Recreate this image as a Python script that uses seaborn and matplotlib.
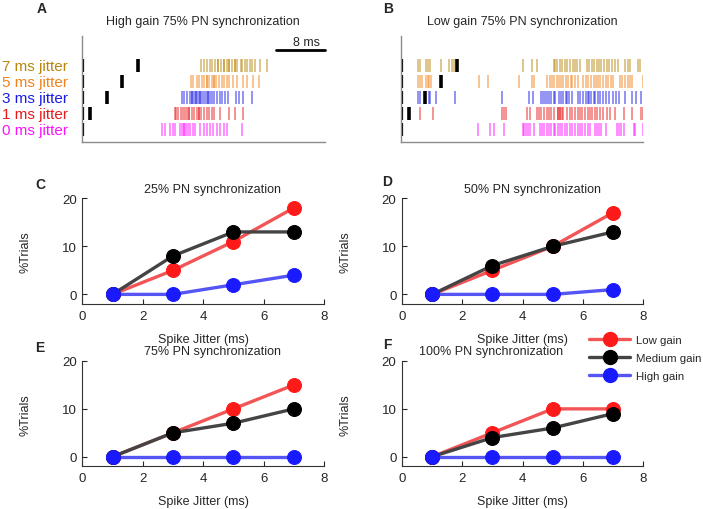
import numpy as np
import pandas as pd
import matplotlib
matplotlib.use("Agg")
import matplotlib.pyplot as plt
from matplotlib.lines import Line2D
import seaborn as sns

sns.set_style("white")
plt.rcParams['font.family'] = ['Liberation Sans', 'DejaVu Sans']

# ---------------- data ----------------
jitter_labels = ["7 ms jitter", "5 ms jitter", "3 ms jitter", "1 ms jitter", "0 ms jitter"]
jitter_colors = ["#b8860b", "#f0821e", "#1a1ae6", "#e61a1a", "#ff10ff"]

# Panel A: high gain, 75% PN synchronization (spike times, ms)
a_7 = [19.6, 20.1, 20.5, 21.0, 21.4, 21.9, 22.4, 22.4, 22.8, 23.4, 23.4, 23.8, 24.2, 24.2, 24.7,
       25.2, 25.2, 25.5, 26.1, 26.4, 26.8, 27.2, 27.6, 28.0, 28.4, 29.3, 30.5]
a_5 = [17.9, 18.3, 18.9, 19.2, 19.7, 20.1, 20.5, 20.5, 20.9, 21.3, 21.7, 21.7, 22.1, 22.6, 23.0,
       23.3, 23.8, 24.2, 24.9, 25.5, 26.5, 27.1, 28.2, 29.2]
a_3 = [16.4, 16.7, 17.2, 17.8, 18.1, 18.1, 18.4, 18.8, 18.8, 19.1, 19.4, 19.4, 19.7, 20.1, 20.4,
       20.7, 20.7, 21.1, 21.4, 21.7, 22.2, 22.7, 23.1, 23.5, 24.0, 25.3, 25.9, 26.5, 27.9]
a_1 = [15.2, 15.4, 15.8, 16.2, 16.6, 16.9, 17.3, 17.6, 17.6, 18.0, 18.4, 18.9, 19.2, 19.2, 19.6,
       20.1, 20.5, 20.9, 21.3, 21.7, 22.7, 24.1, 25.2, 26.5]
a_0 = [13.2, 13.6, 14.5, 14.9, 15.3, 16.1, 16.4, 16.8, 16.8, 17.1, 17.4, 17.8, 18.2, 18.6, 19.4,
       20.1, 20.5, 21.1, 21.6, 22.2, 22.7, 23.4, 23.8, 26.3]
a_black = [9.2, 6.6, 4.0, 1.3, None]

# Panel B: low gain, 75% PN synchronization (spike times, ms)
b_7 = [2.8, 3.2, 4.2, 4.5, 4.8, 6.6, 8.0, 8.4, 8.8, 20.1, 21.6, 22.4, 25.2, 25.4, 25.8, 26.3,
       26.6, 27.1, 27.5, 27.9, 28.4, 28.7, 29.1, 29.6, 30.7, 31.0, 31.5, 31.9, 32.3, 32.7, 33.1,
       33.5, 34.0, 34.4, 34.9, 35.3, 35.8, 37.0, 37.4, 37.8, 39.2, 39.5]
b_5 = [2.8, 3.2, 3.5, 4.2, 4.5, 4.7, 5.0, 12.9, 14.4, 19.5, 21.6, 22.0, 24.2, 24.6, 25.0, 25.3,
       25.7, 26.1, 26.4, 26.8, 27.2, 27.6, 28.0, 28.3, 28.7, 29.2, 30.1, 30.5, 30.9, 31.3, 31.8,
       32.2, 32.6, 32.9, 33.4, 33.8, 34.2, 34.6, 35.0, 36.1, 36.5, 37.0, 37.4, 37.8, 38.2, 40.0]
b_3 = [2.8, 3.2, 4.6, 4.8, 5.9, 8.9, 16.7, 21.2, 21.8, 23.1, 23.5, 23.8, 24.2, 24.5, 24.8, 25.2,
       25.4, 26.1, 26.5, 26.8, 27.2, 27.5, 27.8, 28.2, 29.2, 29.6, 30.1, 30.5, 30.8, 31.1, 31.4,
       31.8, 32.1, 32.6, 32.9, 33.4, 33.8, 34.4, 35.0, 35.5, 36.0, 37.0, 38.2, 38.8, 39.7]
b_1 = [3.1, 5.4, 16.7, 17.0, 17.3, 20.9, 21.4, 22.4, 22.8, 23.2, 23.7, 24.1, 24.4, 24.8, 25.3,
       26.0, 26.0, 26.3, 26.3, 26.6, 26.8, 27.5, 27.9, 28.3, 28.7, 29.2, 29.6, 29.9, 30.4, 30.8,
       31.2, 31.6, 32.0, 32.4, 32.9, 33.4, 34.0, 34.5, 35.4, 36.9, 38.1, 39.6, 39.9]
b_0 = [12.8, 14.8, 15.4, 17.1, 20.1, 20.4, 20.7, 21.0, 21.3, 22.0, 22.9, 23.3, 23.7, 24.1, 24.4,
       24.8, 25.2, 25.5, 25.9, 26.3, 26.6, 27.1, 27.5, 27.9, 28.3, 28.8, 29.2, 29.6, 29.9, 30.4,
       30.8, 31.2, 32.0, 32.4, 32.7, 33.1, 33.9, 35.7, 36.0, 36.4, 36.8, 38.4, 38.7, 39.9]
b_black = [9.3, 6.6, 4.0, 1.4, None]

# Panels C-F: % trials vs spike jitter
jitter_ms = [1, 3, 5, 7]
gains = ["Low gain", "Medium gain", "High gain"]
gain_colors = ["#ff1a1a", "#000000", "#1a1aff"]
line_colors = ["#f25555", "#444444", "#5555f5"]
sync_titles = ["25% PN synchronization", "50% PN synchronization",
               "75% PN synchronization", "100% PN synchronization"]
sync25 = {"Low gain": [0, 5, 11, 18], "Medium gain": [0, 8, 13, 13], "High gain": [0, 0, 2, 4]}
sync50 = {"Low gain": [0, 5, 10, 17], "Medium gain": [0, 6, 10, 13], "High gain": [0, 0, 0, 1]}
sync75 = {"Low gain": [0, 5, 10, 15], "Medium gain": [0, 5, 7, 10], "High gain": [0, 0, 0, 0]}
sync100 = {"Low gain": [0, 5, 10, 10], "Medium gain": [0, 4, 6, 9], "High gain": [0, 0, 0, 0]}

# ---------------- figure ----------------
W, H = 703, 510
fig = plt.figure(figsize=(W / 100, H / 100), dpi=100)

def ax_px(left, right, top, bottom):
    return fig.add_axes([left / W, 1 - bottom / H, (right - left) / W, (bottom - top) / H])

FS = 9

def raster(ax, rows, blacks, title, title_x):
    ax.set_xlim(0, 40)
    ax.set_ylim(-0.78, 5.84)
    for i, (spk, col, blk) in enumerate(zip(rows, jitter_colors, blacks)):
        y = 4 - i
        ax.vlines(spk, y - 0.42, y + 0.42, colors=col, linewidth=1.1, alpha=0.6)
        ax.vlines([0.15], y - 0.42, y + 0.42, colors="black", linewidth=1.6)
        if blk is not None:
            ax.vlines([blk], y - 0.42, y + 0.42, colors="black", linewidth=2.6)
    for s in ["top", "right"]:
        ax.spines[s].set_visible(False)
    for s in ["left", "bottom"]:
        ax.spines[s].set_color("#8a8a8a")
        ax.spines[s].set_linewidth(1.0)
    ax.set_xticks([])
    ax.set_yticks([])
    fig.text(title_x / W, 1 - 22 / H, title, ha="center", va="center", fontsize=FS)

axA = ax_px(82.3, 325, 37, 143)
raster(axA, [a_7, a_5, a_3, a_1, a_0], a_black, "High gain 75% PN synchronization", 203)
axB = ax_px(400.7, 643.3, 37, 143)
raster(axB, [b_7, b_5, b_3, b_1, b_0], b_black, "Low gain 75% PN synchronization", 522)

# scale bar in A
axA.plot([32, 40], [4.94, 4.94], color="black", lw=2, clip_on=False)
axA.text(37.0, 5.1, "8 ms", ha="center", va="bottom", fontsize=FS)

# jitter labels
for i, (lab, col) in enumerate(zip(jitter_labels, jitter_colors)):
    fig.text(2 / W, 1 - (67 + 16 * i) / H, lab, color=col, fontsize=11, ha="left", va="center")

def lineplot(ax, data, title, title_cx):
    for g, mc, lc in zip(gains, gain_colors, line_colors):
        df = pd.DataFrame({"jitter": jitter_ms, "trials": data[g]})
        sns.lineplot(data=df, x="jitter", y="trials", ax=ax, color=lc, lw=2.4,
                     marker="o", markersize=10, markerfacecolor=mc, markeredgecolor=mc,
                     label=g, legend=False)
    ax.set_xlim(0, 8)
    ax.set_ylim(-2, 20)
    ax.set_xticks([0, 2, 4, 6, 8])
    ax.set_yticks([0, 10, 20])
    ax.tick_params(direction="in", length=3.5, labelsize=FS + 0.5, width=0.8, pad=4,
                   bottom=True, left=True)
    for s in ["top", "right"]:
        ax.spines[s].set_visible(False)
    for s in ["left", "bottom"]:
        ax.spines[s].set_color("#333333")
        ax.spines[s].set_linewidth(0.8)
    ax.set_xlabel("Spike Jitter (ms)", fontsize=FS, labelpad=8)
    ax.set_ylabel("%Trials", fontsize=FS, labelpad=22)
    bb = ax.get_position()
    ax.text((title_cx / W - bb.x0) / bb.width, 1.035, title, transform=ax.transAxes,
            ha="center", va="bottom", fontsize=FS)

axC = ax_px(82.3, 324, 199.3, 305)
lineplot(axC, sync25, sync_titles[0], 213)
axD = ax_px(402, 643, 199.3, 305)
lineplot(axD, sync50, sync_titles[1], 532)
axE = ax_px(82.3, 324, 362, 467.3)
lineplot(axE, sync75, sync_titles[2], 213)
axF = ax_px(402, 643, 362, 467.3)
lineplot(axF, sync100, sync_titles[3], 491)

handles = [Line2D([0], [0], color=lc, lw=2.4, marker="o", markersize=10,
                  markerfacecolor=mc, markeredgecolor=mc)
           for mc, lc in zip(gain_colors, line_colors)]
fig.legend(handles, gains, loc="upper left", bbox_to_anchor=(589 / W, 1 - 336 / H),
           frameon=False, fontsize=8.2, handlelength=3.6, handletextpad=0.5,
           borderpad=0, borderaxespad=0, labelspacing=0.72)

# panel letters
for lab, x, y in [("A", 42, 9), ("B", 388, 9), ("C", 40, 185), ("D", 387, 182),
                  ("E", 40, 348), ("F", 387, 345)]:
    fig.text(x / W, 1 - y / H, lab, fontsize=10, fontweight="bold", ha="center", va="center")

fig.savefig("out.png", dpi=100)
